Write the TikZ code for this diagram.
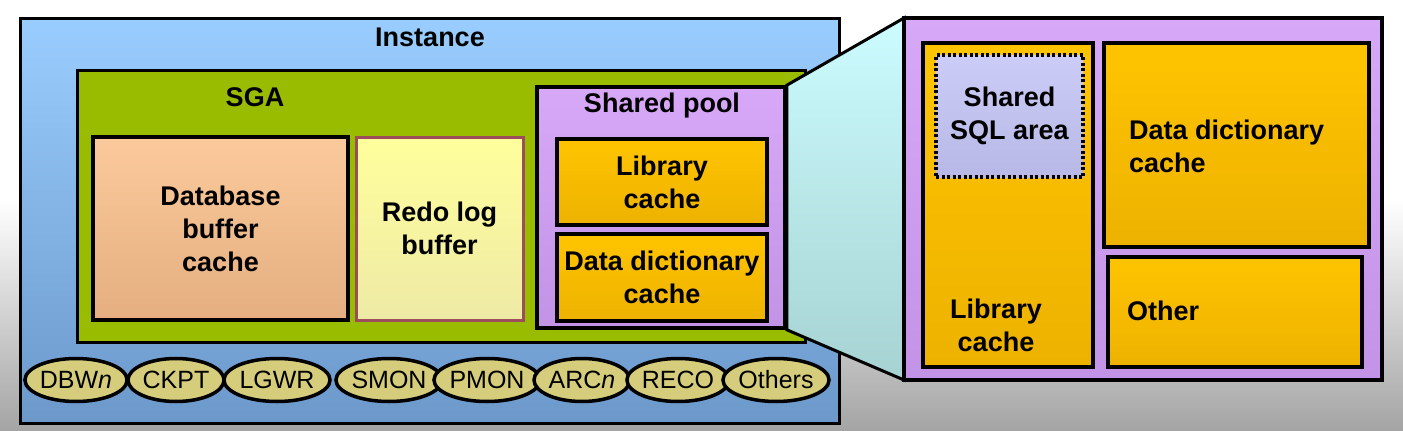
\documentclass[tikz,border=0pt]{standalone}
\usepackage{fontspec}
\setmainfont{Liberation Sans}
\usetikzlibrary{shapes.geometric}
\definecolor{instT}{HTML}{9ACDFF}
\definecolor{instB}{HTML}{6C98CA}
\definecolor{sgaC}{HTML}{99BB00}
\definecolor{poolT}{HTML}{D8A8F8}
\definecolor{poolB}{HTML}{C293E6}
\definecolor{goldT}{HTML}{FFC400}
\definecolor{goldB}{HTML}{EDB200}
\definecolor{peachT}{HTML}{FBCA9C}
\definecolor{peachB}{HTML}{E4AE80}
\definecolor{redoT}{HTML}{FFFF9C}
\definecolor{redoB}{HTML}{EEEAA6}
\definecolor{redoL}{HTML}{9C4D5C}
\definecolor{procC}{HTML}{D6CD7C}
\definecolor{cyanT}{HTML}{CCFCFF}
\definecolor{cyanB}{HTML}{A6D2D2}
\definecolor{sqlT}{HTML}{CCCCF8}
\definecolor{sqlB}{HTML}{B8B8E6}
\definecolor{bgB}{HTML}{A4A4A4}
\tikzset{
  box/.style={draw=black, line width=3.5pt, rectangle, inner sep=0pt, align=center,
    font=\bfseries\fontsize{27}{33}\selectfont},
  lbl/.style={inner sep=0pt, align=center, font=\bfseries\fontsize{27}{33}\selectfont},
  proc/.style={draw=black, line width=3.5pt, ellipse, fill=procC, inner sep=0pt,
    minimum width=96pt, minimum height=43pt, font=\fontsize{25}{28}\selectfont},
}
\begin{document}
\begin{tikzpicture}[x=1pt,y=-1pt]
\useasboundingbox (0,0) rectangle (1403,431);
\fill[white] (0,0) rectangle (1403,431);
\shade[top color=white, bottom color=bgB] (0,200) rectangle (1403,431);

\node[box, top color=instT, bottom color=instB, line width=3pt, minimum width=819pt, minimum height=405pt] (inst) at (429.5,220.5) {};
\node[lbl] (instl) at (430,37) {Instance};
\node[box, fill=sgaC, line width=3pt, minimum width=728pt, minimum height=272pt] (sga) at (441,206) {};
\node[lbl] (sgal) at (255,97) {SGA};
\node[box, top color=peachT, bottom color=peachB, minimum width=255pt, minimum height=183pt] (dbc) at (220.5,228.5) {Database\\buffer\\cache};
\node[box, draw=redoL, line width=3pt, top color=redoT, bottom color=redoB, minimum width=167pt, minimum height=183pt] (redo) at (439.5,228.5) {Redo log\\buffer};
\node[box, top color=poolT, bottom color=poolB, minimum width=248pt, minimum height=241pt] (spool) at (661,207.5) {};
\node[lbl] (spooll) at (662,106) {Shared pool};
\node[box, top color=goldT, bottom color=goldB, minimum width=210pt, minimum height=86pt] (lib1) at (662,182) {Library\\cache};
\node[box, top color=goldT, bottom color=goldB, minimum width=210pt, minimum height=87pt] (dd1) at (662,277.5) {Data dictionary\\cache};

\node[proc] (dbwn) at (76,380) {DBW\textit{n}};
\node[proc] (ckpt) at (176,380) {CKPT};
\node[proc] (lgwr) at (277,380) {LGWR};
\node[proc] (smon) at (389,380) {SMON};
\node[proc] (pmon) at (487,380) {PMON};
\node[proc] (arcn) at (582,380) {ARC\textit{n}};
\node[proc] (reco) at (678,380) {RECO};
\node[proc] (othp) at (776,380) {Others};

\coordinate (zNW) at (904,18);
\coordinate (zSW) at (904,380);
\shade[top color=cyanT, bottom color=cyanB, draw=black, line width=3pt, line join=miter]
  (spool.north east) -- (zNW) -- (zSW) -- (spool.south east) -- cycle;

\node[box, top color=poolT, bottom color=poolB, minimum width=478pt, minimum height=362pt] (zoom) at (1143,199) {};
\node[box, top color=goldT, bottom color=goldB, minimum width=170pt, minimum height=324pt] (lib2) at (1008,205) {};
\node[lbl] (lib2l) at (996,325) {Library\\cache};
\node[box, dash pattern=on 3pt off 2.5pt, line width=3.5pt, top color=sqlT, bottom color=sqlB, minimum width=147pt, minimum height=122pt] (sql) at (1009.5,116) {Shared\\SQL area};
\node[box, top color=goldT, bottom color=goldB, minimum width=265pt, minimum height=204pt] (dd2) at (1236.5,145) {};
\node[lbl, anchor=west, align=left] (dd2l) at (1129,146) {Data dictionary\\cache};
\node[box, top color=goldT, bottom color=goldB, minimum width=254pt, minimum height=110pt] (oth) at (1235,312) {};
\node[lbl, anchor=west] (othl) at (1127,311) {Other};
\end{tikzpicture}
\end{document}
